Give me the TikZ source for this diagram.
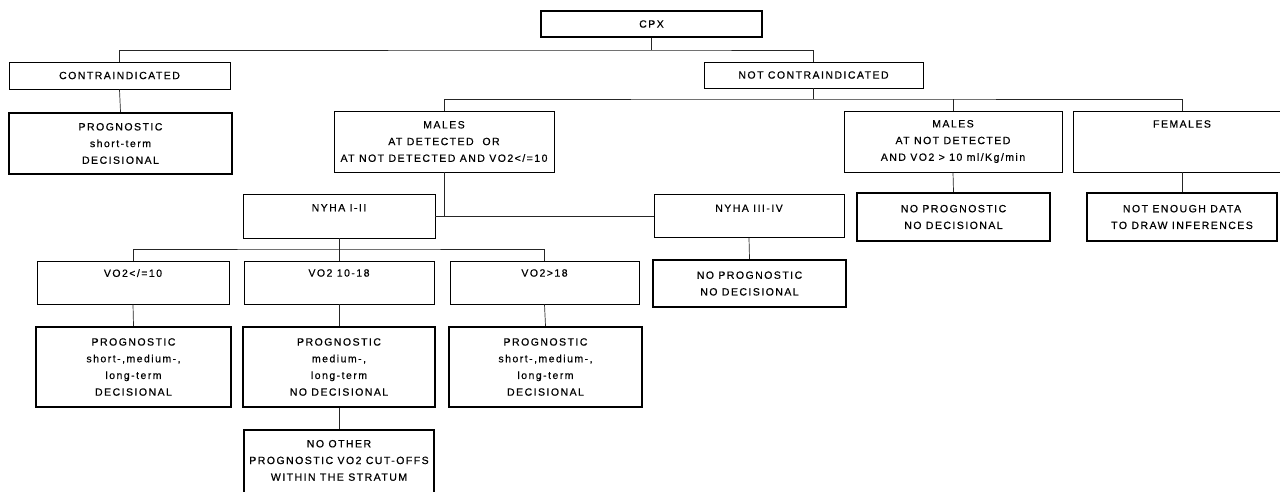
\documentclass[tikz,border=0pt]{standalone}
\usepackage{fontspec}
\setmainfont{Liberation Sans}[LetterSpace=14,FakeBold=0.6]
\begin{document}
\begin{tikzpicture}[x=1pt,y=-1pt,
  every node/.style={font=\fontsize{10.5}{16.7}\selectfont, align=center, inner sep=0pt},
  thinbox/.style={draw, line width=0.9pt},
  thickbox/.style={draw, line width=2.4pt},
  conn/.style={line width=0.7pt, black!85},
  toptext/.style={anchor=north, yshift=-9.5pt}]
\useasboundingbox (0,0) rectangle (1280,491);
% boxes
\node[thickbox, minimum width=221pt, minimum height=26pt] (cpx) at (651.5,24) {CPX};
\node[thinbox, minimum width=221pt, minimum height=27pt] (contra) at (119.5,75.5) {CONTRAINDICATED};
\node[thickbox, minimum width=223pt, minimum height=61pt] (cprog) at (120.5,143.5) {PROGNOSTIC\\short-term\\DECISIONAL};
\node[thinbox, minimum width=219pt, minimum height=26pt] (notc) at (813.5,75) {NOT CONTRAINDICATED};
\node[thinbox, minimum width=220pt, minimum height=61pt] (males1) at (444,141.5) {MALES\\AT DETECTED\ \ OR\\AT NOT DETECTED AND VO2</=10};
\node[thinbox, minimum width=218pt, minimum height=61pt] (males2) at (953,141.5) {MALES\\AT NOT DETECTED\\AND VO2 > 10 ml/Kg/min};
\node[thinbox, minimum width=218pt, minimum height=61pt] (fem) at (1182,141.5) {};
\node[toptext] (femt) at (fem.north) {FEMALES};
\node[thickbox, minimum width=193pt, minimum height=48pt] (noprog2) at (953.5,217) {NO PROGNOSTIC\\NO DECISIONAL};
\node[thickbox, minimum width=190pt, minimum height=48pt] (noenough) at (1182,217) {NOT ENOUGH DATA\\TO DRAW INFERENCES};
\node[thinbox, minimum width=192pt, minimum height=44pt] (nyha1) at (339,216) {};
\node[toptext, yshift=-0.8pt] (nyha1t) at (nyha1.north) {NYHA I-II};
\node[thinbox, minimum width=190pt, minimum height=43pt] (nyha3) at (749,216) {};
\node[toptext, yshift=-0.8pt] (nyha3t) at (nyha3.north) {NYHA III-IV};
\node[thickbox, minimum width=193pt, minimum height=47pt] (noprog3) at (749.5,283.5) {NO PROGNOSTIC\\NO DECISIONAL};
\node[thinbox, minimum width=192pt, minimum height=43pt] (v1) at (133,282.5) {};
\node[toptext, yshift=1pt] (v1t) at (v1.north) {VO2</=10};
\node[thinbox, minimum width=190pt, minimum height=43pt] (v2) at (339,282.5) {};
\node[toptext, yshift=1pt] (v2t) at (v2.north) {VO2 10-18};
\node[thinbox, minimum width=189pt, minimum height=43pt] (v3) at (544.5,282.5) {};
\node[toptext, yshift=1pt] (v3t) at (v3.north) {VO2>18};
\node[thickbox, minimum width=195pt, minimum height=80pt] (p1) at (133.5,367) {PROGNOSTIC\\short-,medium-,\\long-term\\DECISIONAL};
\node[thickbox, minimum width=192pt, minimum height=80pt] (p2) at (339,367) {PROGNOSTIC\\medium-,\\long-term\\NO DECISIONAL};
\node[thickbox, minimum width=193pt, minimum height=80pt] (p3) at (545.5,367) {PROGNOSTIC\\short-,medium-,\\long-term\\DECISIONAL};
\node[thickbox, minimum width=190pt, minimum height=80pt] (noother) at (339,470) {};
\node[toptext, yshift=-1.5pt] (noothert) at (noother.north) {NO OTHER\\PROGNOSTIC VO2 CUT-OFFS\\WITHIN THE STRATUM};
% bus levels
\coordinate (b1) at (0,50);
\coordinate (b2) at (0,99);
\coordinate (b3) at (0,249);
% connectors
\draw[conn] (cpx.south) -- (cpx.south |- b1);
\draw[conn] (contra.north) |- (cpx.south |- b1) -| (notc.north);
\draw[conn] (contra.south) -- (cprog.north);
\draw[conn] (notc.south) -- (notc.south |- b2);
\draw[conn] (males1.north) |- (notc.south |- b2) -| (fem.north);
\draw[conn] (males2.north) -- (males2.north |- b2);
\draw[conn] (males2.south) -- (noprog2.north);
\draw[conn] (fem.south) -- (noenough.north);
\draw[conn] (males1.south) -- (males1.south |- nyha1.east);
\draw[conn] (nyha1.east) -- (nyha3.west);
\draw[conn] (nyha3.south) -- (noprog3.north);
\draw[conn] (nyha1.south) -- (nyha1.south |- b3);
\draw[conn] (v1.north) |- (nyha1.south |- b3) -| (v3.north);
\draw[conn] (v2.north) -- (v2.north |- b3);
\draw[conn] (v1.south) -- (p1.north);
\draw[conn] (v2.south) -- (p2.north);
\draw[conn] (v3.south) -- (p3.north);
\draw[conn] (p2.south) -- (noother.north);
\end{tikzpicture}
\end{document}
